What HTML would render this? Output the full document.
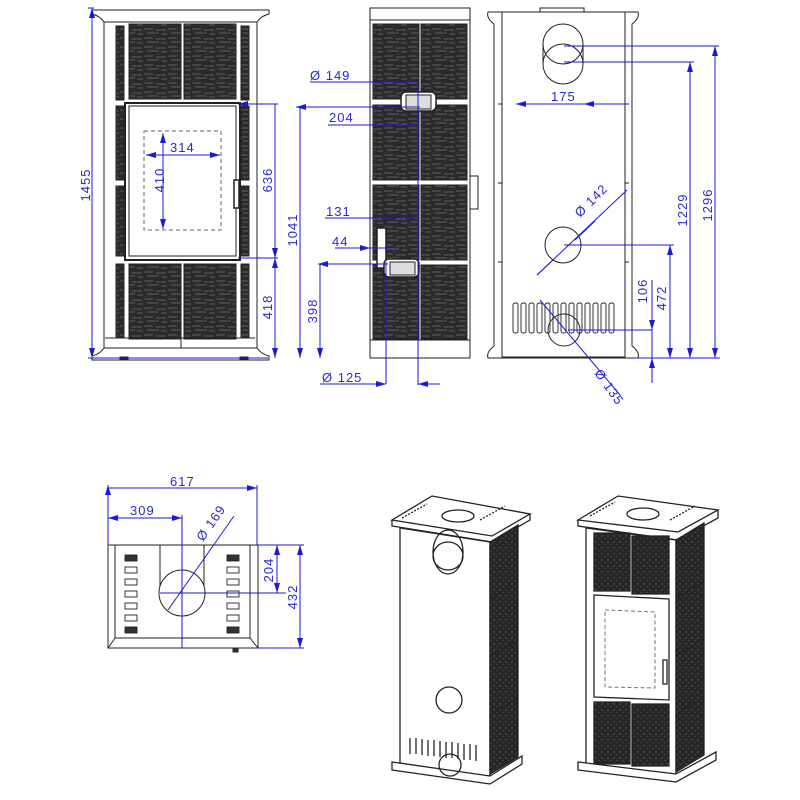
<!DOCTYPE html>
<html><head><meta charset="utf-8"><style>
html,body{margin:0;padding:0;background:#fff}
svg{display:block}
text{font-family:"Liberation Sans",sans-serif;font-size:13px;fill:#2a2ad0;letter-spacing:1px}
</style></head><body>
<svg width="800" height="800" viewBox="0 0 800 800" xmlns="http://www.w3.org/2000/svg">
<defs>
<pattern id="tx" width="24" height="9" patternUnits="userSpaceOnUse">
<rect width="24" height="9" fill="#2b2b2b"/>
<path d="M0 2h9M12 3h10M3 6h12M17 7h6" stroke="#707070" stroke-width="0.8"/>
</pattern>
<pattern id="tx2" width="6" height="6" patternUnits="userSpaceOnUse">
<rect width="6" height="6" fill="#262626"/>
<circle cx="2" cy="2" r="0.7" fill="#666"/><circle cx="5" cy="4.5" r="0.6" fill="#555"/>
</pattern>
<marker id="a" viewBox="0 0 10 6" refX="10" refY="3" markerWidth="10" markerHeight="6" orient="auto-start-reverse" markerUnits="userSpaceOnUse">
<path d="M0 0L10 3L0 6z" fill="#1a1ad8"/></marker>
</defs>

<g stroke="#222" stroke-width="1" fill="none">
<path d="M92 10h177v4q-8 2-12 8v326q4 6 12 8v4H92v-4q8-2 12-8V22q-4-6-12-8z" fill="#fff"/>
<rect x="104" y="22" width="153" height="326"/>
<rect x="129" y="24" width="52" height="75" fill="url(#tx)"/>
<rect x="184" y="24" width="52" height="75" fill="url(#tx)"/>
<rect x="129" y="264" width="52" height="75" fill="url(#tx)"/>
<rect x="184" y="264" width="52" height="75" fill="url(#tx)"/>
<rect x="116" y="26" width="8" height="74" fill="url(#tx)"/>
<rect x="241" y="26" width="8" height="74" fill="url(#tx)"/>
<rect x="116" y="106" width="8" height="74" fill="url(#tx)"/>
<rect x="241" y="106" width="8" height="74" fill="url(#tx)"/>
<rect x="116" y="186" width="8" height="70" fill="url(#tx)"/>
<rect x="241" y="186" width="8" height="70" fill="url(#tx)"/>
<rect x="116" y="264" width="8" height="74" fill="url(#tx)"/>
<rect x="241" y="264" width="8" height="74" fill="url(#tx)"/>
<rect x="125" y="103" width="115" height="157" stroke-width="2"/>
<rect x="129" y="106" width="107" height="150"/>
<rect x="234" y="180" width="5" height="28" fill="#fff" stroke-width="1.5"/>
<path d="M105 338h150M181 338v10"/>
<rect x="120" y="357" width="8" height="2" fill="#222"/><rect x="240" y="357" width="8" height="2" fill="#222"/>
<rect x="144" y="131" width="77" height="99" stroke="#666" stroke-dasharray="4 3"/>

<rect x="370" y="8" width="100" height="350" fill="#fff"/>
<rect x="373" y="24" width="46" height="75" fill="url(#tx)"/>
<rect x="421" y="24" width="46" height="75" fill="url(#tx)"/>
<rect x="373" y="105" width="46" height="75" fill="url(#tx)"/>
<rect x="421" y="105" width="46" height="75" fill="url(#tx)"/>
<rect x="373" y="185" width="46" height="75" fill="url(#tx)"/>
<rect x="421" y="185" width="46" height="75" fill="url(#tx)"/>
<rect x="373" y="265" width="46" height="74" fill="url(#tx)"/>
<rect x="421" y="265" width="46" height="74" fill="url(#tx)"/>
<path d="M370 20h100M370 340h100"/>
<rect x="470" y="176" width="8" height="33" fill="#fff"/>
<rect x="401" y="92" width="35" height="19" rx="5" fill="#fff" stroke-width="1.5"/>
<rect x="406" y="95" width="25" height="14" fill="#ddd"/>
<rect x="377" y="228" width="9" height="40" fill="#fff" stroke-width="1.5"/>
<rect x="384" y="259" width="35" height="18" rx="5" fill="#fff" stroke-width="1.5"/>
<rect x="390" y="262" width="25" height="13" fill="#ddd"/>

<path d="M488 12h150q2 6-6 12v322q8 6 6 12H488q-2-6 6-12V24q-8-6-6-12z" fill="#fff"/>
<rect x="502" y="12" width="123" height="345"/>
<rect x="540" y="8" width="44" height="4"/>
<path d="M498 104h4M498 183h4M498 262h4M625 104h4M625 183h4M625 262h4"/>
<circle cx="563" cy="44" r="20"/><circle cx="563" cy="64" r="20"/>
<path d="M543 44v20M583 44v20"/>
<circle cx="563" cy="245" r="18"/>
<circle cx="564" cy="330" r="16"/>
<g stroke-width="0.9">
<rect x="513" y="303" width="5" height="30" rx="2"/><rect x="521" y="303" width="5" height="30" rx="2"/>
<rect x="529" y="303" width="5" height="30" rx="2"/><rect x="537" y="303" width="5" height="30" rx="2"/>
<rect x="545" y="303" width="5" height="30" rx="2"/><rect x="553" y="303" width="5" height="30" rx="2"/>
<rect x="561" y="303" width="5" height="30" rx="2"/><rect x="569" y="303" width="5" height="30" rx="2"/>
<rect x="577" y="303" width="5" height="30" rx="2"/><rect x="585" y="303" width="5" height="30" rx="2"/>
<rect x="593" y="303" width="5" height="30" rx="2"/><rect x="601" y="303" width="5" height="30" rx="2"/>
<rect x="609" y="303" width="5" height="30" rx="2"/>
</g>

<rect x="108" y="545" width="150" height="103" fill="#fff"/>
<path d="M115 545v93h135v-93M160 545v50M204 545v50M108 648l7-10M258 648l-8-10M182 617v31"/>
<circle cx="182" cy="593" r="23" fill="#fff"/>
<g fill="#fff" stroke-width="0.9">
<rect x="125" y="555" width="12" height="6" fill="#333"/><rect x="125" y="567" width="12" height="6"/><rect x="125" y="579" width="12" height="6"/><rect x="125" y="591" width="12" height="6"/><rect x="125" y="603" width="12" height="6"/><rect x="125" y="615" width="12" height="6"/><rect x="125" y="627" width="12" height="6" fill="#333"/>
<rect x="227" y="555" width="12" height="6" fill="#333"/><rect x="227" y="567" width="12" height="6"/><rect x="227" y="579" width="12" height="6"/><rect x="227" y="591" width="12" height="6"/><rect x="227" y="603" width="12" height="6"/><rect x="227" y="615" width="12" height="6"/><rect x="227" y="627" width="12" height="6" fill="#333"/>
</g>
<rect x="233" y="648" width="5" height="4" fill="#333"/>

<g stroke-width="1.3">
<path d="M392 520l40-24 98 18-38 22z" fill="#fff"/>
<path d="M392 520v6l100 16 38-22v-6"/>
<path d="M400 528l90 14v235l-90-14z" fill="#fff"/>
<path d="M490 542l28-17v232l-28 17z" fill="url(#tx2)"/>
<path d="M490 599l28-17M490 657l28-17M490 715l28-17"/>
<path d="M392 770l98 14 32-20v-8l-32 20-98-14z" fill="#fff"/>
<ellipse cx="448" cy="552" rx="15" ry="22"/><ellipse cx="448" cy="556" rx="15" ry="14"/>
<circle cx="449" cy="700" r="13"/>
<circle cx="450" cy="765" r="11"/>
<path d="M410 738v16M416 738v16M422 739v16M428 740v16M434 740v16M440 741v16M446 742v16M452 742v16M458 743v16M464 744v16M470 744v16M476 745v16"/>
<ellipse cx="458" cy="516" rx="16" ry="6"/>
<path d="M402 518l25-14M480 520l25-14" stroke-dasharray="2 1.5"/>
</g>

<g stroke-width="1.3">
<path d="M578 520l40-24 100 14-40 22z" fill="#fff"/>
<path d="M578 520v6l100 14 40-22v-8"/>
<path d="M586 528l90 12v236l-90-12z" fill="#fff"/>
<path d="M676 540l28-17v232l-28 17z" fill="url(#tx2)"/>
<path d="M676 598l28-17M676 656l28-17M676 714l28-17"/>
<path d="M594 533h36v58h-36zM632 536h37v58h-37z" fill="url(#tx2)"/>
<path d="M594 702h36v62h-36zM632 704h37v62h-37z" fill="url(#tx2)"/>
<path d="M594 595l75 4v101l-75-3z" fill="#fff"/>
<path d="M605 610l50 2v76l-50-1z" stroke="#777" stroke-dasharray="4 2.5" stroke-width="1"/>
<rect x="663" y="660" width="4" height="24" fill="#fff"/>
<path d="M578 770l98 12 40-22v-8l-40 22-98-12z" fill="#fff"/>
<ellipse cx="643" cy="514" rx="16" ry="6"/>
<path d="M590 516l25-14M670 520l25-14" stroke-dasharray="2 1.5"/>
</g>
</g>

<g stroke="#1a1ad8" stroke-width="1" fill="none">
<path d="M92 8v350" marker-start="url(#a)" marker-end="url(#a)"/>
<path d="M88 8h6M88 358h180"/>
<path d="M238 104h40M238 258h40M275 104v154" marker-start="url(#a)" marker-end="url(#a)"/>
<path d="M275 258v100" marker-start="url(#a)" marker-end="url(#a)"/>
<path d="M163 133v96" marker-start="url(#a)" marker-end="url(#a)"/>
<path d="M146 155h74" marker-start="url(#a)" marker-end="url(#a)"/>
<path d="M296 107h124M300 107v251" marker-start="url(#a)" marker-end="url(#a)"/>
<path d="M318 264h70M320 264v94" marker-start="url(#a)" marker-end="url(#a)"/>
<path d="M310 82h108M328 125h90M325 218h90M335 248h60"/>
<path d="M352 218h24M346 248h24" marker-end="url(#a)"/>
<path d="M386 262v122M418 85v300M320 384h66M418 384h22"/>
<path d="M370 384h16" marker-end="url(#a)"/><path d="M440 384h-22" marker-end="url(#a)"/>
<path d="M516 104h112M542 104h-26" marker-start="url(#a)"/>
<path d="M584 104h22" marker-start="url(#a)"/>
<path d="M564 46h155M564 62h130M564 245h110"/>
<path d="M715 46v312" marker-start="url(#a)" marker-end="url(#a)"/>
<path d="M690 62v296" marker-start="url(#a)" marker-end="url(#a)"/>
<path d="M670 245v113" marker-start="url(#a)" marker-end="url(#a)"/>
<path d="M568 330h84M634 358h86M652 280v103"/>
<path d="M652 305v25" marker-end="url(#a)"/><path d="M652 383v-25" marker-end="url(#a)"/>
<path d="M537 275l90-85"/><path d="M553 260l-16 15M575 240l20-19" />
<path d="M540 300l80 95"/>
<path d="M108 485v60M257 485v60M108 488h149" marker-start="url(#a)" marker-end="url(#a)"/>
<path d="M108 518h74" marker-start="url(#a)" marker-end="url(#a)"/>
<path d="M182 515v133M160 593h126M258 545h46"/>
<path d="M168 610l66-94"/>
<path d="M277 545v48" marker-start="url(#a)" marker-end="url(#a)"/>
<path d="M300 545v103" marker-start="url(#a)" marker-end="url(#a)"/>
<path d="M258 648h46"/>
</g>
<g>
<text x="90" y="185" transform="rotate(-90 90 185)" text-anchor="middle">1455</text>
<text x="272" y="180" transform="rotate(-90 272 180)" text-anchor="middle">636</text>
<text x="272" y="307" transform="rotate(-90 272 307)" text-anchor="middle">418</text>
<text x="297" y="230" transform="rotate(-90 297 230)" text-anchor="middle">1041</text>
<text x="317" y="311" transform="rotate(-90 317 311)" text-anchor="middle">398</text>
<text x="164" y="180" transform="rotate(-90 164 180)" text-anchor="middle">410</text>
<text x="170" y="152">314</text>
<text x="310" y="80">Ø 149</text>
<text x="329" y="122">204</text>
<text x="326" y="216">131</text>
<text x="332" y="246">44</text>
<text x="322" y="382">Ø 125</text>
<text x="551" y="101">175</text>
<text x="687" y="210" transform="rotate(-90 687 210)" text-anchor="middle">1229</text>
<text x="712" y="205" transform="rotate(-90 712 205)" text-anchor="middle">1296</text>
<text x="666" y="298" transform="rotate(-90 666 298)" text-anchor="middle">472</text>
<text x="647" y="291" transform="rotate(-90 647 291)" text-anchor="middle">106</text>
<text x="580" y="218" transform="rotate(-45 580 218)">Ø 142</text>
<text x="594" y="373" transform="rotate(55 594 373)">Ø 135</text>
<text x="170" y="486">617</text>
<text x="130" y="515">309</text>
<text x="203" y="542" transform="rotate(-55 203 542)">Ø 169</text>
<text x="273" y="570" transform="rotate(-90 273 570)" text-anchor="middle">204</text>
<text x="297" y="597" transform="rotate(-90 297 597)" text-anchor="middle">432</text>
</g>
</svg>
</body></html>
